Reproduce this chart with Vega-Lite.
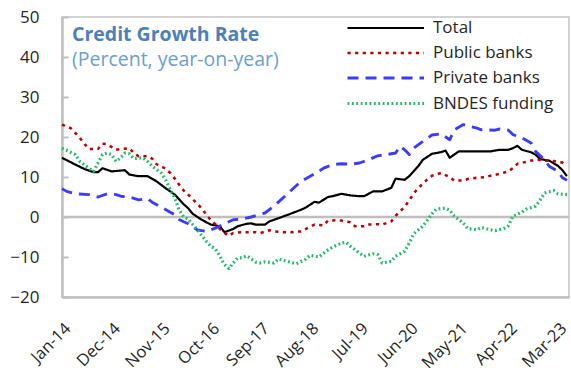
{
  "$schema": "https://vega.github.io/schema/vega-lite/v6.json",
  "width": 507,
  "height": 280,
  "autosize": {"type": "none"},
  "padding": {"left": 62, "top": 17, "right": 2, "bottom": 88},
  "background": "white",
  "config": {
    "view": {"stroke": "#c4c4c4", "strokeWidth": 1.5},
    "font": "Open Sans",
    "axisY": {
      "values": [-20, -10, 0, 10, 20, 30, 40, 50],
      "grid": false,
      "domainColor": "#bfbfbf",
      "domainWidth": 2.5,
      "tickColor": "#bfbfbf",
      "tickWidth": 2,
      "tickSize": -6,
      "labelPadding": 29,
      "labelFontSize": 17,
      "labelColor": "#262626",
      "labelFont": "Open Sans",
      "labelOverlap": false,
      "labelFlush": false,
      "labelBound": false,
      "title": null
    }
  },
  "title": {
    "text": "Credit Growth Rate",
    "subtitle": "(Percent, year-on-year)",
    "anchor": "start",
    "frame": "group",
    "orient": "top",
    "offset": -62,
    "dx": 10,
    "font": "Open Sans",
    "fontSize": 19.5,
    "fontWeight": "bold",
    "color": "#4e80b8",
    "subtitleFont": "Open Sans",
    "subtitleFontSize": 19.5,
    "subtitleColor": "#6b9ed4",
    "subtitlePadding": 5
  },
  "layer": [
    {
      "data": {"values": [{"v": 0}]},
      "mark": {"type": "rule", "color": "#bfbfbf", "strokeWidth": 2.5},
      "encoding": {"y": {"field": "v", "type": "quantitative", "scale": {"domain": [-20, 50], "nice": false, "zero": false}}}
    },
    {
      "data": {
        "format": {"parse": {"d": "utc:'%Y-%m'"}},
        "values": [
          {"s":"Total","d":"2014-01","v":14.8},{"s":"Total","d":"2014-04","v":13.1},{"s":"Total","d":"2014-06","v":12.0},{"s":"Total","d":"2014-08","v":11.2},{"s":"Total","d":"2014-09","v":11.2},{"s":"Total","d":"2014-10","v":12.2},{"s":"Total","d":"2014-12","v":11.4},{"s":"Total","d":"2015-03","v":11.7},{"s":"Total","d":"2015-04","v":10.6},{"s":"Total","d":"2015-06","v":10.2},{"s":"Total","d":"2015-08","v":10.2},{"s":"Total","d":"2015-10","v":8.9},{"s":"Total","d":"2015-12","v":7.2},{"s":"Total","d":"2016-02","v":5.6},{"s":"Total","d":"2016-04","v":3.2},{"s":"Total","d":"2016-05","v":2.2},{"s":"Total","d":"2016-06","v":0.8},{"s":"Total","d":"2016-08","v":-0.7},{"s":"Total","d":"2016-10","v":-1.9},{"s":"Total","d":"2016-12","v":-2.3},{"s":"Total","d":"2017-01","v":-3.8},{"s":"Total","d":"2017-03","v":-3.0},{"s":"Total","d":"2017-04","v":-2.3},{"s":"Total","d":"2017-06","v":-1.7},{"s":"Total","d":"2017-07","v":-1.6},{"s":"Total","d":"2017-08","v":-1.9},{"s":"Total","d":"2017-10","v":-1.9},{"s":"Total","d":"2017-11","v":-1.1},{"s":"Total","d":"2018-01","v":-0.3},{"s":"Total","d":"2018-03","v":0.5},{"s":"Total","d":"2018-06","v":1.8},{"s":"Total","d":"2018-07","v":2.3},{"s":"Total","d":"2018-09","v":3.8},{"s":"Total","d":"2018-10","v":3.6},{"s":"Total","d":"2018-12","v":5.0},{"s":"Total","d":"2019-01","v":5.2},{"s":"Total","d":"2019-03","v":5.8},{"s":"Total","d":"2019-05","v":5.4},{"s":"Total","d":"2019-07","v":5.2},{"s":"Total","d":"2019-08","v":5.2},{"s":"Total","d":"2019-10","v":6.4},{"s":"Total","d":"2019-12","v":6.4},{"s":"Total","d":"2020-02","v":7.3},{"s":"Total","d":"2020-03","v":9.6},{"s":"Total","d":"2020-05","v":9.3},{"s":"Total","d":"2020-06","v":10.2},{"s":"Total","d":"2020-08","v":12.7},{"s":"Total","d":"2020-09","v":14.3},{"s":"Total","d":"2020-11","v":15.8},{"s":"Total","d":"2021-01","v":16.2},{"s":"Total","d":"2021-02","v":16.6},{"s":"Total","d":"2021-03","v":14.8},{"s":"Total","d":"2021-05","v":16.4},{"s":"Total","d":"2021-08","v":16.4},{"s":"Total","d":"2021-12","v":16.4},{"s":"Total","d":"2022-02","v":16.8},{"s":"Total","d":"2022-04","v":16.8},{"s":"Total","d":"2022-05","v":17.2},{"s":"Total","d":"2022-06","v":17.8},{"s":"Total","d":"2022-07","v":16.8},{"s":"Total","d":"2022-09","v":16.2},{"s":"Total","d":"2022-10","v":15.6},{"s":"Total","d":"2022-11","v":14.5},{"s":"Total","d":"2023-01","v":14.1},{"s":"Total","d":"2023-03","v":12.8},{"s":"Total","d":"2023-04","v":11.7},{"s":"Total","d":"2023-05","v":10.2},
          {"s":"Public banks","d":"2014-01","v":23.1},{"s":"Public banks","d":"2014-03","v":22.2},{"s":"Public banks","d":"2014-04","v":21.0},{"s":"Public banks","d":"2014-05","v":19.8},{"s":"Public banks","d":"2014-06","v":18.3},{"s":"Public banks","d":"2014-07","v":17.0},{"s":"Public banks","d":"2014-09","v":17.0},{"s":"Public banks","d":"2014-10","v":18.3},{"s":"Public banks","d":"2014-11","v":18.2},{"s":"Public banks","d":"2015-01","v":16.8},{"s":"Public banks","d":"2015-02","v":17.0},{"s":"Public banks","d":"2015-04","v":17.2},{"s":"Public banks","d":"2015-05","v":16.0},{"s":"Public banks","d":"2015-06","v":15.2},{"s":"Public banks","d":"2015-08","v":15.2},{"s":"Public banks","d":"2015-09","v":14.6},{"s":"Public banks","d":"2015-10","v":13.2},{"s":"Public banks","d":"2015-12","v":12.1},{"s":"Public banks","d":"2016-01","v":11.0},{"s":"Public banks","d":"2016-02","v":9.6},{"s":"Public banks","d":"2016-03","v":8.1},{"s":"Public banks","d":"2016-04","v":6.6},{"s":"Public banks","d":"2016-05","v":5.6},{"s":"Public banks","d":"2016-06","v":4.4},{"s":"Public banks","d":"2016-07","v":3.4},{"s":"Public banks","d":"2016-08","v":2.1},{"s":"Public banks","d":"2016-09","v":0.6},{"s":"Public banks","d":"2016-10","v":-0.8},{"s":"Public banks","d":"2016-11","v":-1.8},{"s":"Public banks","d":"2016-12","v":-3.0},{"s":"Public banks","d":"2017-01","v":-4.0},{"s":"Public banks","d":"2017-02","v":-4.7},{"s":"Public banks","d":"2017-03","v":-4.0},{"s":"Public banks","d":"2017-05","v":-3.8},{"s":"Public banks","d":"2017-08","v":-3.8},{"s":"Public banks","d":"2017-09","v":-4.0},{"s":"Public banks","d":"2017-11","v":-3.3},{"s":"Public banks","d":"2017-12","v":-3.6},{"s":"Public banks","d":"2018-02","v":-3.8},{"s":"Public banks","d":"2018-04","v":-3.8},{"s":"Public banks","d":"2018-05","v":-3.6},{"s":"Public banks","d":"2018-06","v":-3.6},{"s":"Public banks","d":"2018-08","v":-2.5},{"s":"Public banks","d":"2018-09","v":-1.9},{"s":"Public banks","d":"2018-11","v":-2.1},{"s":"Public banks","d":"2018-12","v":-0.9},{"s":"Public banks","d":"2019-02","v":-0.8},{"s":"Public banks","d":"2019-03","v":-0.9},{"s":"Public banks","d":"2019-05","v":-1.3},{"s":"Public banks","d":"2019-06","v":-2.3},{"s":"Public banks","d":"2019-08","v":-2.3},{"s":"Public banks","d":"2019-09","v":-1.9},{"s":"Public banks","d":"2019-11","v":-1.8},{"s":"Public banks","d":"2019-12","v":-1.9},{"s":"Public banks","d":"2020-02","v":-1.1},{"s":"Public banks","d":"2020-03","v":0.3},{"s":"Public banks","d":"2020-04","v":1.4},{"s":"Public banks","d":"2020-05","v":2.5},{"s":"Public banks","d":"2020-07","v":5.8},{"s":"Public banks","d":"2020-08","v":7.3},{"s":"Public banks","d":"2020-09","v":8.3},{"s":"Public banks","d":"2020-10","v":9.4},{"s":"Public banks","d":"2020-11","v":10.3},{"s":"Public banks","d":"2021-01","v":11.0},{"s":"Public banks","d":"2021-03","v":10.0},{"s":"Public banks","d":"2021-04","v":9.1},{"s":"Public banks","d":"2021-06","v":9.1},{"s":"Public banks","d":"2021-07","v":9.5},{"s":"Public banks","d":"2021-09","v":9.8},{"s":"Public banks","d":"2021-11","v":10.0},{"s":"Public banks","d":"2021-12","v":10.3},{"s":"Public banks","d":"2022-02","v":10.8},{"s":"Public banks","d":"2022-04","v":11.4},{"s":"Public banks","d":"2022-05","v":12.2},{"s":"Public banks","d":"2022-06","v":13.3},{"s":"Public banks","d":"2022-08","v":13.8},{"s":"Public banks","d":"2022-09","v":14.1},{"s":"Public banks","d":"2022-11","v":14.3},{"s":"Public banks","d":"2022-12","v":14.1},{"s":"Public banks","d":"2023-02","v":14.0},{"s":"Public banks","d":"2023-04","v":13.6},{"s":"Public banks","d":"2023-05","v":12.8},
          {"s":"Private banks","d":"2014-01","v":7.1},{"s":"Private banks","d":"2014-02","v":6.4},{"s":"Private banks","d":"2014-04","v":5.8},{"s":"Private banks","d":"2014-07","v":5.6},{"s":"Private banks","d":"2014-09","v":5.0},{"s":"Private banks","d":"2014-11","v":5.8},{"s":"Private banks","d":"2015-01","v":5.6},{"s":"Private banks","d":"2015-02","v":5.2},{"s":"Private banks","d":"2015-04","v":5.0},{"s":"Private banks","d":"2015-06","v":4.3},{"s":"Private banks","d":"2015-08","v":4.6},{"s":"Private banks","d":"2015-09","v":3.7},{"s":"Private banks","d":"2015-11","v":2.5},{"s":"Private banks","d":"2016-01","v":1.2},{"s":"Private banks","d":"2016-02","v":0.6},{"s":"Private banks","d":"2016-03","v":-0.6},{"s":"Private banks","d":"2016-04","v":-1.2},{"s":"Private banks","d":"2016-05","v":-1.7},{"s":"Private banks","d":"2016-07","v":-3.2},{"s":"Private banks","d":"2016-09","v":-3.6},{"s":"Private banks","d":"2016-11","v":-2.8},{"s":"Private banks","d":"2017-01","v":-1.7},{"s":"Private banks","d":"2017-03","v":-0.7},{"s":"Private banks","d":"2017-05","v":-0.5},{"s":"Private banks","d":"2017-07","v":0.0},{"s":"Private banks","d":"2017-10","v":1.0},{"s":"Private banks","d":"2017-12","v":2.7},{"s":"Private banks","d":"2018-02","v":4.8},{"s":"Private banks","d":"2018-04","v":6.8},{"s":"Private banks","d":"2018-06","v":8.9},{"s":"Private banks","d":"2018-07","v":9.5},{"s":"Private banks","d":"2018-09","v":10.8},{"s":"Private banks","d":"2018-11","v":12.2},{"s":"Private banks","d":"2019-01","v":13.1},{"s":"Private banks","d":"2019-03","v":13.3},{"s":"Private banks","d":"2019-05","v":13.2},{"s":"Private banks","d":"2019-07","v":13.5},{"s":"Private banks","d":"2019-09","v":14.3},{"s":"Private banks","d":"2019-11","v":15.3},{"s":"Private banks","d":"2020-01","v":15.6},{"s":"Private banks","d":"2020-03","v":16.0},{"s":"Private banks","d":"2020-04","v":17.7},{"s":"Private banks","d":"2020-05","v":16.8},{"s":"Private banks","d":"2020-06","v":15.6},{"s":"Private banks","d":"2020-07","v":17.2},{"s":"Private banks","d":"2020-09","v":18.9},{"s":"Private banks","d":"2020-11","v":20.5},{"s":"Private banks","d":"2021-01","v":20.8},{"s":"Private banks","d":"2021-03","v":19.3},{"s":"Private banks","d":"2021-04","v":21.8},{"s":"Private banks","d":"2021-06","v":23.1},{"s":"Private banks","d":"2021-09","v":22.2},{"s":"Private banks","d":"2021-10","v":21.8},{"s":"Private banks","d":"2022-01","v":21.7},{"s":"Private banks","d":"2022-02","v":22.0},{"s":"Private banks","d":"2022-04","v":21.7},{"s":"Private banks","d":"2022-05","v":20.6},{"s":"Private banks","d":"2022-07","v":19.8},{"s":"Private banks","d":"2022-09","v":18.5},{"s":"Private banks","d":"2022-10","v":16.4},{"s":"Private banks","d":"2022-12","v":14.3},{"s":"Private banks","d":"2023-01","v":12.7},{"s":"Private banks","d":"2023-03","v":11.4},{"s":"Private banks","d":"2023-04","v":9.8},{"s":"Private banks","d":"2023-05","v":9.2},
          {"s":"BNDES funding","d":"2014-01","v":17.2},{"s":"BNDES funding","d":"2014-02","v":16.7},{"s":"BNDES funding","d":"2014-04","v":15.6},{"s":"BNDES funding","d":"2014-05","v":13.9},{"s":"BNDES funding","d":"2014-07","v":12.2},{"s":"BNDES funding","d":"2014-08","v":11.4},{"s":"BNDES funding","d":"2014-09","v":13.5},{"s":"BNDES funding","d":"2014-10","v":15.6},{"s":"BNDES funding","d":"2014-11","v":16.0},{"s":"BNDES funding","d":"2014-12","v":15.6},{"s":"BNDES funding","d":"2015-01","v":13.9},{"s":"BNDES funding","d":"2015-02","v":14.8},{"s":"BNDES funding","d":"2015-03","v":16.0},{"s":"BNDES funding","d":"2015-04","v":15.8},{"s":"BNDES funding","d":"2015-05","v":14.6},{"s":"BNDES funding","d":"2015-07","v":14.8},{"s":"BNDES funding","d":"2015-08","v":13.9},{"s":"BNDES funding","d":"2015-09","v":12.7},{"s":"BNDES funding","d":"2015-11","v":11.0},{"s":"BNDES funding","d":"2015-12","v":9.3},{"s":"BNDES funding","d":"2016-01","v":6.8},{"s":"BNDES funding","d":"2016-02","v":4.8},{"s":"BNDES funding","d":"2016-03","v":1.8},{"s":"BNDES funding","d":"2016-04","v":0.0},{"s":"BNDES funding","d":"2016-05","v":-0.5},{"s":"BNDES funding","d":"2016-07","v":-3.2},{"s":"BNDES funding","d":"2016-09","v":-6.1},{"s":"BNDES funding","d":"2016-10","v":-7.3},{"s":"BNDES funding","d":"2016-11","v":-8.0},{"s":"BNDES funding","d":"2016-12","v":-9.8},{"s":"BNDES funding","d":"2017-01","v":-11.9},{"s":"BNDES funding","d":"2017-02","v":-12.9},{"s":"BNDES funding","d":"2017-03","v":-11.5},{"s":"BNDES funding","d":"2017-04","v":-10.2},{"s":"BNDES funding","d":"2017-05","v":-10.2},{"s":"BNDES funding","d":"2017-06","v":-9.7},{"s":"BNDES funding","d":"2017-08","v":-11.3},{"s":"BNDES funding","d":"2017-09","v":-11.5},{"s":"BNDES funding","d":"2017-10","v":-11.2},{"s":"BNDES funding","d":"2017-12","v":-11.5},{"s":"BNDES funding","d":"2018-01","v":-10.5},{"s":"BNDES funding","d":"2018-03","v":-11.1},{"s":"BNDES funding","d":"2018-05","v":-11.7},{"s":"BNDES funding","d":"2018-07","v":-10.6},{"s":"BNDES funding","d":"2018-08","v":-9.6},{"s":"BNDES funding","d":"2018-10","v":-10.0},{"s":"BNDES funding","d":"2018-12","v":-8.2},{"s":"BNDES funding","d":"2019-01","v":-7.5},{"s":"BNDES funding","d":"2019-03","v":-6.5},{"s":"BNDES funding","d":"2019-04","v":-6.3},{"s":"BNDES funding","d":"2019-05","v":-7.3},{"s":"BNDES funding","d":"2019-07","v":-9.0},{"s":"BNDES funding","d":"2019-08","v":-9.8},{"s":"BNDES funding","d":"2019-10","v":-9.2},{"s":"BNDES funding","d":"2019-11","v":-9.4},{"s":"BNDES funding","d":"2019-12","v":-11.5},{"s":"BNDES funding","d":"2020-02","v":-11.1},{"s":"BNDES funding","d":"2020-03","v":-9.8},{"s":"BNDES funding","d":"2020-05","v":-8.6},{"s":"BNDES funding","d":"2020-06","v":-6.5},{"s":"BNDES funding","d":"2020-07","v":-4.2},{"s":"BNDES funding","d":"2020-09","v":-2.3},{"s":"BNDES funding","d":"2020-10","v":-0.8},{"s":"BNDES funding","d":"2020-11","v":0.8},{"s":"BNDES funding","d":"2020-12","v":2.0},{"s":"BNDES funding","d":"2021-02","v":2.2},{"s":"BNDES funding","d":"2021-03","v":1.7},{"s":"BNDES funding","d":"2021-04","v":0.2},{"s":"BNDES funding","d":"2021-06","v":-1.5},{"s":"BNDES funding","d":"2021-07","v":-2.9},{"s":"BNDES funding","d":"2021-09","v":-3.2},{"s":"BNDES funding","d":"2021-10","v":-2.6},{"s":"BNDES funding","d":"2021-12","v":-3.2},{"s":"BNDES funding","d":"2022-01","v":-3.4},{"s":"BNDES funding","d":"2022-03","v":-2.9},{"s":"BNDES funding","d":"2022-04","v":-2.2},{"s":"BNDES funding","d":"2022-05","v":0.2},{"s":"BNDES funding","d":"2022-07","v":1.2},{"s":"BNDES funding","d":"2022-08","v":2.0},{"s":"BNDES funding","d":"2022-10","v":2.7},{"s":"BNDES funding","d":"2022-11","v":4.2},{"s":"BNDES funding","d":"2022-12","v":6.0},{"s":"BNDES funding","d":"2023-02","v":6.6},{"s":"BNDES funding","d":"2023-03","v":5.8},{"s":"BNDES funding","d":"2023-05","v":5.6}
        ]
      },
      "mark": {"type": "line", "strokeJoin": "round"},
      "encoding": {
        "x": {
          "field": "d",
          "type": "temporal",
          "scale": {"type": "utc", "domain": [{"year": 2014, "month": 1, "date": 1, "utc": true}, {"year": 2023, "month": 5, "date": 15, "utc": true}]},
          "axis": {
            "values": [
              {"year": 2014, "month": 1, "date": 1, "utc": true},
              {"year": 2014, "month": 12, "date": 1, "utc": true},
              {"year": 2015, "month": 11, "date": 1, "utc": true},
              {"year": 2016, "month": 10, "date": 1, "utc": true},
              {"year": 2017, "month": 9, "date": 1, "utc": true},
              {"year": 2018, "month": 8, "date": 1, "utc": true},
              {"year": 2019, "month": 7, "date": 1, "utc": true},
              {"year": 2020, "month": 6, "date": 1, "utc": true},
              {"year": 2021, "month": 5, "date": 1, "utc": true},
              {"year": 2022, "month": 4, "date": 1, "utc": true},
              {"year": 2023, "month": 3, "date": 1, "utc": true}
            ],
            "labelExpr": "utcFormat(datum.value, '%b-%y')",
            "labelAngle": -45,
            "labelAlign": "right",
            "labelBaseline": "top",
            "labelPadding": 23,
            "labelFontSize": 16.5,
            "labelColor": "#262626",
            "labelFont": "Open Sans",
            "labelBound": false,
            "labelFlush": false,
            "labelOverlap": false,
            "ticks": false,
            "grid": false,
            "domainColor": "#bfbfbf",
            "domainWidth": 2.5,
            "title": null
          }
        },
        "y": {
          "field": "v",
          "type": "quantitative",
          "scale": {"domain": [-20, 50], "nice": false, "zero": false}
        },
        "color": {
          "field": "s",
          "type": "nominal",
          "sort": ["Total", "Public banks", "Private banks", "BNDES funding"],
          "scale": {"domain": ["Total", "Public banks", "Private banks", "BNDES funding"], "range": ["#000000", "#c00000", "#3b3bff", "#22bb66"]},
          "legend": {
            "title": null,
            "orient": "none",
            "legendX": 317.5,
            "legendY": 1,
            "padding": 0,
            "symbolType": "M-5,0H4",
            "symbolSize": 289,
            "labelFontSize": 17,
            "labelFont": "Open Sans",
            "labelColor": "#262626",
            "labelOffset": 32.5,
            "rowPadding": 7
          }
        },
        "strokeDash": {
          "field": "s",
          "type": "nominal",
          "sort": ["Total", "Public banks", "Private banks", "BNDES funding"],
          "scale": {"domain": ["Total", "Public banks", "Private banks", "BNDES funding"], "range": [[1, 0], [3.2, 4.4], [11, 7], [1.8, 2.6]]}
        },
        "strokeWidth": {
          "field": "s",
          "type": "nominal",
          "sort": ["Total", "Public banks", "Private banks", "BNDES funding"],
          "scale": {"domain": ["Total", "Public banks", "Private banks", "BNDES funding"], "range": [2.2, 3.2, 2.6, 1.8]}
        }
      }
    }
  ]
}
